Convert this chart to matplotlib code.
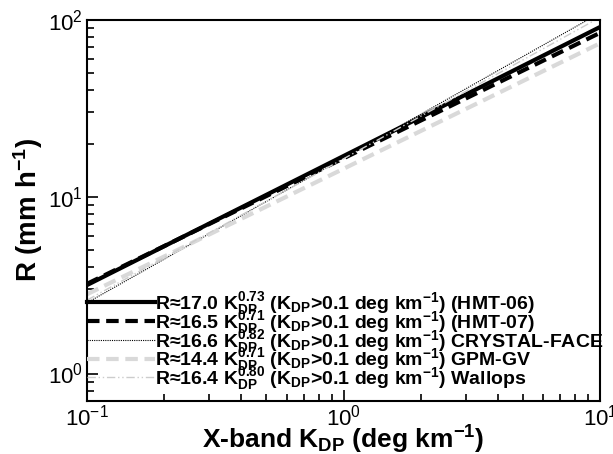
import numpy as np
import matplotlib
matplotlib.use('Agg')
import matplotlib.pyplot as plt

plt.rcParams['font.family'] = ['Liberation Sans', 'DejaVu Sans']
plt.rcParams['mathtext.fontset'] = 'custom'
plt.rcParams['mathtext.rm'] = 'Liberation Sans:bold'
plt.rcParams['mathtext.it'] = 'Liberation Sans:bold'
plt.rcParams['mathtext.bf'] = 'Liberation Sans:bold'
plt.rcParams['axes.unicode_minus'] = False

# power-law fits R = a * KDP^b
names = ['(HMT-06)', '(HMT-07)', 'CRYSTAL-FACE', 'GPM-GV', 'Wallops']
coef_a = [17.0, 16.5, 16.6, 14.4, 16.4]
coef_b = [0.73, 0.71, 0.82, 0.71, 0.80]

colors = ['black', 'black', 'black', '#d9d9d9', '#cccccc']
styles = ['-', (0, (3, 1.6)), (0, (1, 1)), (0, (3, 1.6)), (0, (6, 2, 1, 2, 1, 2))]
widths = [3, 3, 0.8, 3, 1.0]

kdp = np.logspace(-1, 1, 200)

fig = plt.figure(figsize=(6.13, 4.54), dpi=100)
ax = fig.add_axes([0.142, 0.117, 0.837, 0.839])

for a, b, n, c, ls, lw in zip(coef_a, coef_b, names, colors, styles, widths):
    lab = 'R\u2248%.1f K$_{\\rm DP}^{%.2f}$ (K$_{\\rm DP}$>0.1 deg km$^{-1}$) %s' % (a, b, n)
    ax.plot(kdp, a * kdp ** b, color=c, ls=ls, lw=lw, label=lab)

ax.set_xscale('log')
ax.set_yscale('log')
ax.set_xlim(0.1, 10)
ax.set_ylim(0.7, 100)

for s in ax.spines.values():
    s.set_linewidth(1.5)
ax.tick_params(which='both', direction='in', top=False, right=False, width=1.2)
ax.tick_params(which='major', length=8, labelsize=16, pad=3)
ax.tick_params(which='minor', length=5)

ax.set_xlabel('X-band K$_{\\rm DP}$ (deg km$^{-1}$)', fontsize=19, fontweight='bold', labelpad=-5)
ax.set_ylabel('R (mm h$^{-1}$)', fontsize=20, fontweight='bold', labelpad=2)

leg = ax.legend(loc='lower left', bbox_to_anchor=(0.0, 0.023), frameon=False,
                prop={'weight': 'bold', 'size': 14},
                handlelength=3.5, handletextpad=0.0, labelspacing=-0.42,
                borderaxespad=0.0, borderpad=0.0)

fig.savefig('out.png', dpi=100)
